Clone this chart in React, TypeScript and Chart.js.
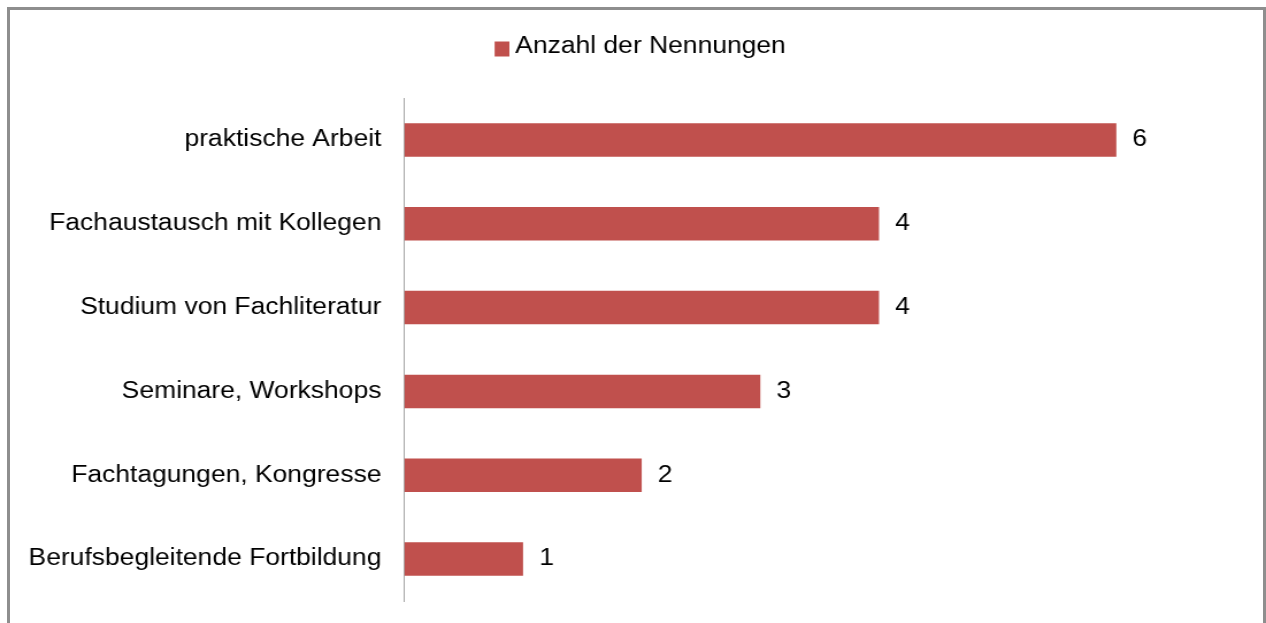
import React, { useEffect, useRef } from "react";
import { Chart, registerables } from "chart.js";

Chart.register(...registerables);

const categories = [
  "praktische Arbeit",
  "Fachaustausch mit Kollegen",
  "Studium von Fachliteratur",
  "Seminare, Workshops",
  "Fachtagungen, Kongresse",
  "Berufsbegleitende Fortbildung",
];
const values = [6, 4, 4, 3, 2, 1];
const seriesLabel = "Anzahl der Nennungen";
const xMin = 0;
const xMax = 7;

const BAR_COLOR = "#C0504D";
const STRETCH = 1266 / 1101;
const FONT = { family: "'Liberation Sans', Arial, sans-serif", size: 23 };

function makeLegendMarker(): HTMLCanvasElement {
  const c = document.createElement("canvas");
  c.width = 26;
  c.height = 23;
  const g = c.getContext("2d");
  if (g) {
    g.fillStyle = BAR_COLOR;
    g.fillRect(13, 6, 13, 15);
  }
  return c;
}

export default function App() {
  const ref = useRef<HTMLCanvasElement | null>(null);

  useEffect(() => {
    const canvas = ref.current;
    if (!canvas) return;
    const valueLabels = {
      id: "valueLabels",
      afterDatasetsDraw(chart: any) {
        const ctx = chart.ctx;
        const meta = chart.getDatasetMeta(0);
        ctx.save();
        ctx.font = `${FONT.size}px ${FONT.family}`;
        ctx.fillStyle = "#000";
        ctx.textAlign = "left";
        ctx.textBaseline = "middle";
        meta.data.forEach((el: any, i: number) => {
          ctx.fillText(String(values[i]), el.x + 14, el.y);
        });
        ctx.restore();
      },
    };
    const chart = new Chart(canvas, {
      type: "bar",
      data: {
        labels: categories,
        datasets: [
          {
            label: seriesLabel,
            data: values,
            backgroundColor: BAR_COLOR,
            borderWidth: 0,
            barPercentage: 0.4,
            categoryPercentage: 1,
          },
        ],
      },
      options: {
        indexAxis: "y",
        responsive: false,
        animation: false,
        layout: { padding: { left: 33, right: 27, top: 25.5, bottom: 22 } },
        plugins: {
          legend: {
            display: true,
            position: "top",
            labels: {
              color: "#000",
              font: FONT,
              boxWidth: 13,
              boxHeight: 23,
              padding: 10,
              usePointStyle: true,
              pointStyle: makeLegendMarker() as any,
            },
          },
          tooltip: { enabled: false },
        },
        scales: {
          x: {
            position: "top",
            min: xMin,
            max: xMax,
            grid: { display: false, drawTicks: false },
            border: { display: false },
            ticks: { display: false },
            afterFit: (s: any) => {
              s.height = 29.5;
            },
          },
          y: {
            grid: { display: false, drawTicks: false },
            border: { display: true, color: "#a6a6a6", width: 1 },
            ticks: { color: "#000", font: FONT, padding: 20 },
            afterFit: (s: any) => {
              s.width = 318.7;
              s.paddingTop = 0;
              s.paddingBottom = 0;
              s._computeLabelArea = () => undefined;
            },
          },
        },
      },
      plugins: [valueLabels],
    });
    return () => chart.destroy();
  }, []);

  return (
    <div
      style={{
        position: "fixed",
        left: 0,
        top: 0,
        width: 1266,
        height: 623,
        overflow: "hidden",
        background: "#fff",
      }}
    >
      <canvas
        ref={ref}
        width={1101}
        height={623}
        style={{
          position: "absolute",
          left: 0,
          top: 0,
          width: "1101px",
          height: "623px",
          transform: `scaleX(${STRETCH})`,
          transformOrigin: "0 0",
        }}
      />
      <div
        style={{
          position: "absolute",
          left: 7,
          top: 7,
          width: 1259,
          height: 700,
          boxSizing: "border-box",
          border: "3px solid #8e8e8e",
          pointerEvents: "none",
        }}
      />
    </div>
  );
}
